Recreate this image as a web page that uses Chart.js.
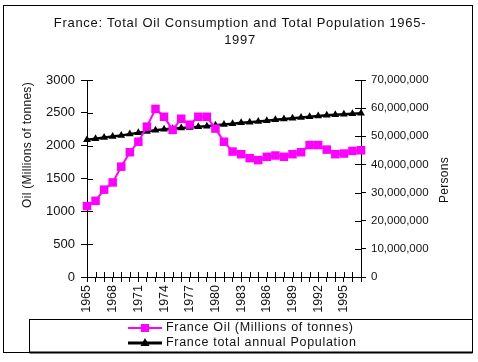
<!DOCTYPE html>
<html lang="en">
<head>
    <meta charset="UTF-8" />
    <title>France: Oil Consumption and Population</title>
    <script src="https://cdn.jsdelivr.net/npm/chart.js"></script>
    <style>
        html, body { margin: 0; padding: 0; background: #fff; }
        canvas { display: block; }
    </style>
</head>
<body>
    <canvas id="chart" width="478" height="362"></canvas>

    <script>
        // data
        const years = ["1965", "1966", "1967", "1968", "1969", "1970", "1971", "1972", "1973", "1974", "1975",
            "1976", "1977", "1978", "1979", "1980", "1981", "1982", "1983", "1984", "1985", "1986",
            "1987", "1988", "1989", "1990", "1991", "1992", "1993", "1994", "1995", "1996", "1997"];
        const shownYears = ["1965", "1968", "1971", "1974", "1977", "1980", "1983", "1986", "1989", "1992", "1995"];

        const oilValues = [1080, 1160, 1330, 1440, 1680, 1900, 2060, 2290, 2560, 2440, 2240,
            2410, 2320, 2440, 2440, 2260, 2060, 1910, 1870, 1810, 1780, 1830,
            1850, 1830, 1870, 1900, 2010, 2010, 1940, 1870, 1880, 1920, 1930];

        const populationValues = [48760000, 49160000, 49550000, 49910000, 50320000, 50770000, 51250000,
            51700000, 52120000, 52460000, 52700000, 52910000, 53150000, 53380000, 53610000,
            53880000, 54180000, 54490000, 54770000, 55030000, 55280000, 55550000, 55840000,
            56120000, 56420000, 56710000, 56980000, 57240000, 57470000, 57660000, 57840000,
            58020000, 58210000];

        const titleLines = ["France: Total Oil Consumption and Total Population 1965-", "1997"];
        const oilLabel = "France Oil (Millions of tonnes)";
        const popLabel = "France total annual Population";

        const FONT = "'Liberation Sans', Arial, sans-serif";

        // draws frame, title, axis titles, inner tick marks and the boxed legend
        const framePlugin = {
            id: "frame",
            afterDraw(chart) {
                const ctx = chart.ctx;
                ctx.save();
                ctx.strokeStyle = "#000";
                ctx.lineWidth = 1;
                ctx.strokeRect(3.5, 5.5, 469, 347);

                ctx.fillStyle = "#111";
                ctx.textAlign = "center";
                ctx.textBaseline = "middle";
                ctx.font = "13px " + FONT;
                ctx.letterSpacing = "0.7px";
                ctx.fillText(titleLines[0], 240, 23);
                ctx.fillText(titleLines[1], 240, 40);

                // axis titles
                ctx.font = "12px " + FONT;
                ctx.letterSpacing = "0.3px";
                ctx.save();
                ctx.translate(28, 145);
                ctx.rotate(-Math.PI / 2);
                ctx.fillText("Oil (Millions of tonnes)", 0, 0);
                ctx.restore();
                ctx.save();
                ctx.translate(445, 180);
                ctx.rotate(-Math.PI / 2);
                ctx.fillText("Persons", 0, 0);
                ctx.restore();

                // tick marks crossing into the plot
                const area = chart.chartArea;
                const x = chart.scales.x, y = chart.scales.y, y1 = chart.scales.y1;
                ctx.beginPath();
                x.ticks.forEach((t, i) => {
                    const px = Math.round(x.getPixelForTick(i)) + 0.5;
                    ctx.moveTo(px, area.bottom);
                    ctx.lineTo(px, area.bottom - 5);
                });
                y.ticks.forEach((t, i) => {
                    const py = Math.round(y.getPixelForTick(i)) + 0.5;
                    ctx.moveTo(area.left, py);
                    ctx.lineTo(area.left + 6, py);
                });
                y1.ticks.forEach((t, i) => {
                    const py = Math.round(y1.getPixelForTick(i)) + 0.5;
                    ctx.moveTo(area.right, py);
                    ctx.lineTo(area.right - 6, py);
                });
                ctx.stroke();

                // legend box
                ctx.strokeRect(29.5, 319.5, 443, 33);
                ctx.beginPath();
                ctx.moveTo(29.5, 352.5);
                ctx.lineTo(472.5, 352.5);
                ctx.lineWidth = 2;
                ctx.stroke();

                const ds = chart.data.datasets;
                const rows = [328, 343];
                ds.forEach((d, i) => {
                    const ly = rows[i];
                    ctx.strokeStyle = d.borderColor;
                    ctx.lineWidth = i === 0 ? 2 : 3;
                    ctx.beginPath();
                    ctx.moveTo(128, ly);
                    ctx.lineTo(162, ly);
                    ctx.stroke();
                    ctx.fillStyle = d.pointBackgroundColor;
                    if (d.pointStyle === "rect") {
                        ctx.fillRect(141, ly - 4, 8, 8);
                    } else {
                        ctx.beginPath();
                        ctx.moveTo(145, ly - 5);
                        ctx.lineTo(149.5, ly + 3);
                        ctx.lineTo(140.5, ly + 3);
                        ctx.closePath();
                        ctx.fill();
                    }
                    ctx.fillStyle = "#111";
                    ctx.textAlign = "left";
                    ctx.font = "12.5px " + FONT;
                    ctx.letterSpacing = "0.7px";
                    ctx.fillText(d.label, 166, ly);
                });
                ctx.restore();
            }
        };

        new Chart(document.getElementById("chart"), {
            type: "line",
            data: {
                labels: years,
                datasets: [
                    {
                        label: oilLabel,
                        data: oilValues,
                        yAxisID: "y",
                        borderColor: "#ff00ff",
                        backgroundColor: "#ff00ff",
                        pointBackgroundColor: "#ff00ff",
                        pointBorderColor: "#ff00ff",
                        borderWidth: 2,
                        pointStyle: "rect",
                        pointRadius: 6,
                        pointBorderWidth: 0,
                        tension: 0,
                        clip: false
                    },
                    {
                        label: popLabel,
                        data: populationValues,
                        yAxisID: "y1",
                        borderColor: "#000",
                        backgroundColor: "#000",
                        pointBackgroundColor: "#000",
                        pointBorderColor: "#000",
                        borderWidth: 2.5,
                        pointStyle: "triangle",
                        pointRadius: 4.5,
                        pointBorderWidth: 0,
                        tension: 0,
                        clip: false
                    }
                ]
            },
            options: {
                responsive: false,
                animation: false,
                layout: { padding: { top: 80, left: 0, right: 0, bottom: 44 } },
                plugins: {
                    legend: { display: false },
                    title: { display: false },
                    tooltip: { enabled: false }
                },
                scales: {
                    x: {
                        offset: false,
                        grid: { drawOnChartArea: false, tickLength: 5, color: "#000" },
                        border: { color: "#000", width: 1 },
                        ticks: {
                            autoSkip: false,
                            minRotation: 90,
                            maxRotation: 90,
                            padding: 3,
                            color: "#111",
                            font: { family: FONT, size: 12.5 },
                            callback: (v, i) => shownYears.includes(years[i]) ? years[i] : ""
                        },
                        afterFit: s => { s.height = 41; }
                    },
                    y: {
                        position: "left",
                        min: 0,
                        max: 3000,
                        grid: { drawOnChartArea: false, tickLength: 6, color: "#000" },
                        border: { color: "#000", width: 1 },
                        ticks: {
                            stepSize: 500,
                            padding: 6,
                            color: "#111",
                            font: { family: FONT, size: 13 },
                            callback: v => String(v)
                        },
                        afterFit: s => { s.width = 87; }
                    },
                    y1: {
                        position: "right",
                        min: 0,
                        max: 70000000,
                        grid: { drawOnChartArea: false, tickLength: 5, color: "#000" },
                        border: { color: "#000", width: 1 },
                        ticks: {
                            stepSize: 10000000,
                            padding: 5,
                            color: "#111",
                            font: { family: FONT, size: 11.5 },
                            callback: v => v.toLocaleString("en-US")
                        },
                        afterFit: s => { s.width = 117; }
                    }
                }
            },
            plugins: [framePlugin]
        });
    </script>
</body>
</html>
